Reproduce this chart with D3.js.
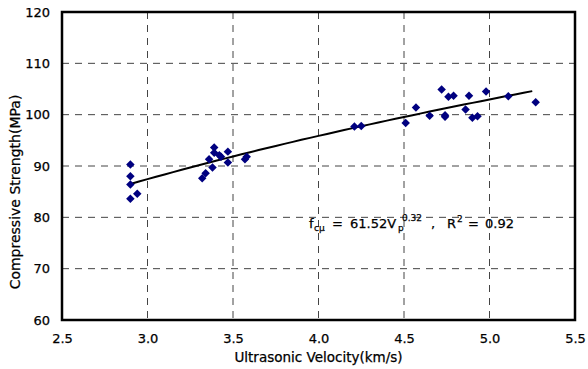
<!DOCTYPE html>
<html>
<head>
<meta charset="utf-8">
<script src="https://cdn.jsdelivr.net/npm/d3@7"></script>
<style>
  body { margin: 0; background: #fff; }
  text { font-family: "DejaVu Sans", "Liberation Sans", Arial, sans-serif; fill: #000; stroke: #000; stroke-width: 0.25px; }
</style>
</head>
<body>
<div id="chart"></div>
<script>
// 超声波速度 vs 抗压强度

const margin = {top: 12, right: 13, bottom: 49, left: 62};
const W = 588, H = 369;
const width = W - margin.left - margin.right;
const height = H - margin.top - margin.bottom;

// 数据点 (km/s, MPa)
const velocity = [
    2.90, 2.90, 2.90, 2.90, 2.94,
    3.32, 3.34, 3.36, 3.38, 3.39, 3.39, 3.42, 3.43, 3.47, 3.47, 3.57, 3.58,
    4.21, 4.25, 4.51, 4.57, 4.65, 4.72, 4.74, 4.74, 4.76, 4.79, 4.86, 4.88,
    4.90, 4.93, 4.98, 5.11, 5.27
];
const strength = [
    90.3, 88.0, 86.4, 83.6, 84.6,
    87.6, 88.6, 91.3, 89.7, 93.6, 92.6, 92.1, 91.8, 92.8, 90.7, 91.3, 91.8,
    97.7, 97.8, 98.4, 101.4, 99.8, 104.9, 99.6, 99.9, 103.5, 103.7, 101.0, 103.7,
    99.4, 99.7, 104.5, 103.6, 102.4
];

// 回归曲线 f = a * V^b
const fitA = 61.52, fitB = 0.32;
const fitRange = [2.9, 5.25];

const xTicks = [2.5, 3.0, 3.5, 4.0, 4.5, 5.0, 5.5];
const yTicks = [60, 70, 80, 90, 100, 110, 120];

const svg = d3.select('#chart').append('svg')
    .attr('width', W)
    .attr('height', H);

const g = svg.append('g')
    .attr('transform', `translate(${margin.left},${margin.top})`);

const x = d3.scaleLinear().domain([2.5, 5.5]).range([0, width]);
const y = d3.scaleLinear().domain([60, 120]).range([height, 0]);

// 网格线
g.selectAll('.vgrid')
    .data(xTicks.slice(1, -1))
    .enter().append('line')
    .attr('x1', d => x(d)).attr('x2', d => x(d))
    .attr('y1', 0).attr('y2', height)
    .style('stroke', '#444')
    .style('stroke-width', 1)
    .style('stroke-dasharray', '7,6');

g.selectAll('.hgrid')
    .data(yTicks.slice(1, -1))
    .enter().append('line')
    .attr('x1', 0).attr('x2', width)
    .attr('y1', d => y(d)).attr('y2', d => y(d))
    .style('stroke', '#444')
    .style('stroke-width', 1)
    .style('stroke-dasharray', '7,6');

// 坐标轴标签
const xAxis = g.append('g')
    .attr('transform', `translate(0,${height})`)
    .call(d3.axisBottom(x).tickValues(xTicks).tickFormat(d3.format('.1f')).tickSize(0).tickPadding(14));
xAxis.select('.domain').remove();
xAxis.selectAll('text').style('font-size', '13px').style('font-family', '"DejaVu Sans", sans-serif');

const yAxis = g.append('g')
    .call(d3.axisLeft(y).tickValues(yTicks).tickSize(0).tickPadding(12));
yAxis.select('.domain').remove();
yAxis.selectAll('text').style('font-size', '13px').style('font-family', '"DejaVu Sans", sans-serif');

// 趋势线
const fitX = d3.range(fitRange[0], fitRange[1] + 0.001, 0.05);
const line = d3.line()
    .x(d => x(d))
    .y(d => y(fitA * Math.pow(d, fitB)));
g.append('path')
    .datum(fitX)
    .attr('d', line)
    .style('fill', 'none')
    .style('stroke', '#000')
    .style('stroke-width', 2);

// 数据点
const diamond = d3.symbol().type(d3.symbolDiamond2).size(46);
g.selectAll('.pt')
    .data(velocity)
    .enter().append('path')
    .attr('d', diamond)
    .attr('transform', (d, i) => `translate(${x(d)},${y(strength[i])})`)
    .style('fill', '#000080');

// 边框
g.append('rect')
    .attr('width', width).attr('height', height)
    .style('fill', 'none')
    .style('stroke', '#000')
    .style('stroke-width', 2.5);

// 公式
const eqY = 216;
const eq = g.append('g').style('font-size', '13px');
function part(px, dy, size, str) {
    eq.append('text')
        .attr('x', px).attr('y', eqY + dy)
        .style('font-size', size + 'px')
        .text(str);
}
part(247, 0, 13, 'f');
part(252, 3, 9, 'cμ');
part(270, 0, 13, '=');
part(288, 0, 13, '61.52V');
part(336, 3, 9, 'p');
part(340, -7, 9, '0.32');
part(369, 0, 13, ',');
part(385, 0, 13, 'R');
part(395, -6, 9, '2');
part(406, 0, 13, '=');
part(423, 0, 13, '0.92');

// 轴标题
svg.append('text')
    .attr('x', margin.left + width / 2)
    .attr('y', 362)
    .attr('text-anchor', 'middle')
    .style('font-size', '13.5px')
    .text('Ultrasonic Velocity(km/s)');

svg.append('text')
    .attr('transform', `translate(20,192) rotate(-90)`)
    .attr('text-anchor', 'middle')
    .style('font-size', '14px')
    .text('Compressive Strength(MPa)');
</script>
</body>
</html>
